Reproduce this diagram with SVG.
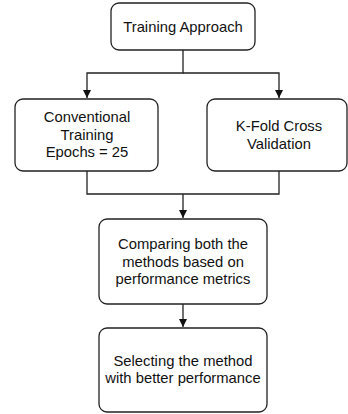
<svg xmlns="http://www.w3.org/2000/svg" width="348" height="414" viewBox="0 0 348 414">
<defs>
<marker id="arr" viewBox="0 0 8 8" refX="8" refY="4" markerWidth="8" markerHeight="8" markerUnits="userSpaceOnUse" orient="auto">
<path d="M0,0 L8,4 L0,8 Z" fill="#111"/>
</marker>
<style>
.box{fill:#fff;stroke:#222;stroke-width:1.3}
.lbl{font-family:"Liberation Sans",Arial,sans-serif;font-size:14.8px;fill:#111;text-anchor:middle}
.con{fill:none;stroke:#222;stroke-width:1.3}
</style>
</defs>
<rect width="348" height="414" fill="#fff"/>
<g id="connectors">
<path class="con" d="M183,50 V73 H87 V98" marker-end="url(#arr)"/>
<path class="con" d="M183,73 H279 V98" marker-end="url(#arr)"/>
<path class="con" d="M87,171 V194 H279 V171"/>
<path class="con" d="M183,194 V218" marker-end="url(#arr)"/>
<path class="con" d="M183,304 V327" marker-end="url(#arr)"/>
</g>
<g id="training-approach">
<rect class="box" x="111" y="3" width="144" height="47" rx="8"/>
<text class="lbl" x="183" y="32">Training Approach</text>
</g>
<g id="conventional">
<rect class="box" x="15" y="99" width="143" height="72" rx="8"/>
<text class="lbl" x="87" y="122">Conventional</text>
<text class="lbl" x="87" y="140">Training</text>
<text class="lbl" x="87" y="157">Epochs = 25</text>
</g>
<g id="kfold">
<rect class="box" x="207" y="99" width="140" height="72" rx="8"/>
<text class="lbl" x="279" y="131">K-Fold Cross</text>
<text class="lbl" x="279" y="149">Validation</text>
</g>
<g id="comparing">
<rect class="box" x="99" y="219" width="168" height="85" rx="8"/>
<text class="lbl" x="183" y="249">Comparing both the</text>
<text class="lbl" x="183" y="267">methods based on</text>
<text class="lbl" x="183" y="284">performance metrics</text>
</g>
<g id="selecting">
<rect class="box" x="99" y="328" width="168" height="84" rx="8"/>
<text class="lbl" x="183" y="366">Selecting the method</text>
<text class="lbl" x="183" y="383">with better performance</text>
</g>
</svg>
